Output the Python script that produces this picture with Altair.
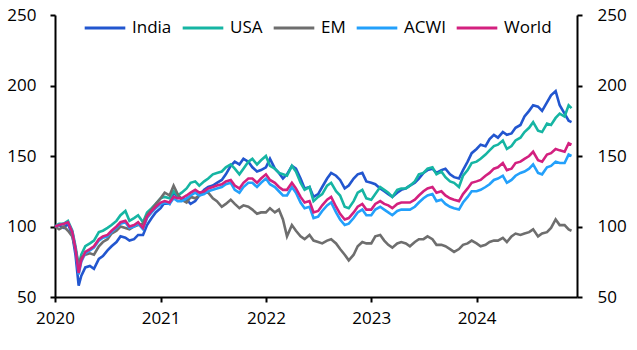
import altair as alt
import pandas as pd

# ---- Data (semi-monthly readings, index 2020-01-01 = 100) ----
india = [100,101,99,102,94,80,58,65,71,72,70,77,79,83,86,89,93,92,90,91,94,94,101,106,110,
         113,117,116,124,121,120,119,116,118,122,126,128,129,131,133,137,143,146,144,148,146,142,139,140,
         142,148,141,138,134,137,143,141,134,127,128,121,123,128,134,138,136,133,127,129,134,137,138,132,
         131,130,127,125,123,121,124,126,127,129,131,134,138,140,141,138,140,141,137,135,134,140,146,152,
         155,158,157,162,165,163,167,165,166,170,172,178,182,186,185,182,188,193,196,186,180,175,174]
usa = [100,102,102,104,97,86,72,80,86,88,90,96,97,99,101,104,108,111,104,106,108,103,110,113,116,
       120,121,120,125,122,124,127,131,132,129,132,134,137,138,139,142,144,141,137,141,146,148,144,147,
       150,143,141,138,137,136,143,139,131,126,128,118,121,123,129,131,125,122,114,113,118,124,126,120,
       119,123,128,126,124,121,126,127,127,129,132,137,138,141,142,137,139,135,132,131,128,136,140,145,
       146,148,151,154,157,158,161,155,157,161,163,167,170,174,168,167,173,172,177,180,178,186,184]
em = [100,98,100,97,93,84,72,78,80,81,80,86,89,91,95,97,100,99,98,100,101,102,108,112,116,
      120,124,122,129,123,119,117,121,120,122,124,124,120,118,114,116,119,116,113,115,114,112,109,110,
      110,113,110,112,105,93,101,97,93,91,94,90,89,88,90,91,88,84,80,76,80,86,89,88,
      88,93,94,90,87,85,88,89,88,86,89,91,91,93,91,87,87,86,84,82,84,87,88,90,
      88,86,87,89,90,90,92,89,93,95,94,95,96,98,93,95,96,99,105,101,101,98,97]
acwi = [100,101,102,103,96,84,66,75,81,83,85,90,92,93,96,99,102,103,99,100,102,98,106,110,113,
        116,117,116,120,118,118,120,122,124,122,123,125,126,127,128,130,131,126,124,128,131,131,128,131,
        134,130,128,125,122,122,128,124,117,113,114,106,107,111,115,117,110,105,101,102,106,110,112,108,
        108,112,114,112,110,108,111,112,112,112,114,117,120,122,123,118,119,116,114,113,112,117,121,125,
        125,126,128,130,133,134,136,131,133,136,138,139,141,144,138,137,142,143,146,145,145,151,150]
world = [100,101,102,103,96,84,67,76,82,84,86,91,93,94,97,100,103,104,100,101,103,99,107,111,114,
         117,118,117,121,120,120,122,124,126,124,125,127,128,129,130,132,133,129,127,131,134,134,131,134,
         137,133,131,128,126,126,131,127,121,117,118,110,111,115,119,121,114,109,105,106,110,114,116,112,
         112,116,118,116,115,113,116,117,117,117,119,122,125,127,128,124,125,122,120,119,118,123,127,131,
         132,133,136,138,141,142,145,140,141,145,146,148,150,153,147,146,151,152,155,154,153,159,158]

series_names = ["India", "USA", "EM", "ACWI", "World"]
series_colors = ["#2256CF", "#16B5A3", "#6E6E6E", "#23A0FB", "#D3207F"]
year_ticks = [2020, 2021, 2022, 2023, 2024]
y_ticks = [50, 100, 150, 200, 250]

# observation dates: 1st and 15th of each month, with the March-2020 crash points
dates = []
for yr in range(2020, 2025):
    for mo in range(1, 13):
        for dy in (1, 15):
            if yr == 2020 and mo == 3 and dy == 15:
                dates += ["2020/03/12", "2020/03/23"]
                continue
            if yr == 2024 and (mo == 12 or (mo == 11 and dy > 15)):
                continue
            dates.append(f"{yr}/{mo:02d}/{dy:02d}")
dates.append("2024/11/25")

rows = []
for name, vals in zip(series_names, [india, usa, em, acwi, world]):
    for d, v in zip(dates, vals):
        rows.append({"date": d, "value": v, "series": name})
df = pd.DataFrame(rows)

FONT = "Open Sans"
yscale = alt.Scale(domain=[50, 250], nice=False, zero=False)
xscale = alt.Scale(domain=["2020/01/01", "2024/12/14"])

common_axis = dict(grid=False, domainColor="black", domainWidth=2, tickColor="black",
                   tickWidth=2, tickSize=5, labelFont=FONT, labelFontSize=17,
                   labelColor="black", title=None, labelFlush=False)

x_axis = alt.Axis(values=[alt.DateTime(year=y, month=1, date=1) for y in year_ticks],
                  format="%Y", labelPadding=8, **common_axis)

lines = alt.Chart(df).mark_line(strokeWidth=2.6).encode(
    x=alt.X("date:T", scale=xscale, axis=x_axis),
    y=alt.Y("value:Q", scale=yscale,
            axis=alt.Axis(values=y_ticks, orient="left", labelPadding=14, **common_axis)),
    color=alt.Color("series:N",
                    scale=alt.Scale(domain=series_names, range=series_colors),
                    sort=series_names,
                    legend=alt.Legend(orient="none", legendX=28, legendY=-9, direction="horizontal",
                                      title=None, symbolType="stroke", symbolSize=1650,
                                      symbolStrokeWidth=3, labelFont=FONT, labelFontSize=17,
                                      labelColor="black", labelOffset=5, columnPadding=4,
                                      gridAlign="each")),
)

right = alt.Chart(df).mark_line(opacity=0).encode(
    x=alt.X("date:T", scale=xscale, axis=x_axis),
    y=alt.Y("value:Q", scale=yscale,
            axis=alt.Axis(values=y_ticks, orient="right", labelPadding=15, **common_axis)),
    detail="series:N",
)

chart = alt.layer(lines, right).resolve_axis(y="independent").properties(
    width=522, height=282,
    autosize=alt.AutoSizeParams(type="none"),
    padding={"left": 55, "top": 15, "right": 60, "bottom": 53},
).configure_view(stroke=None)

chart.save("out.html", embed_options={"renderer": "svg", "actions": False})
